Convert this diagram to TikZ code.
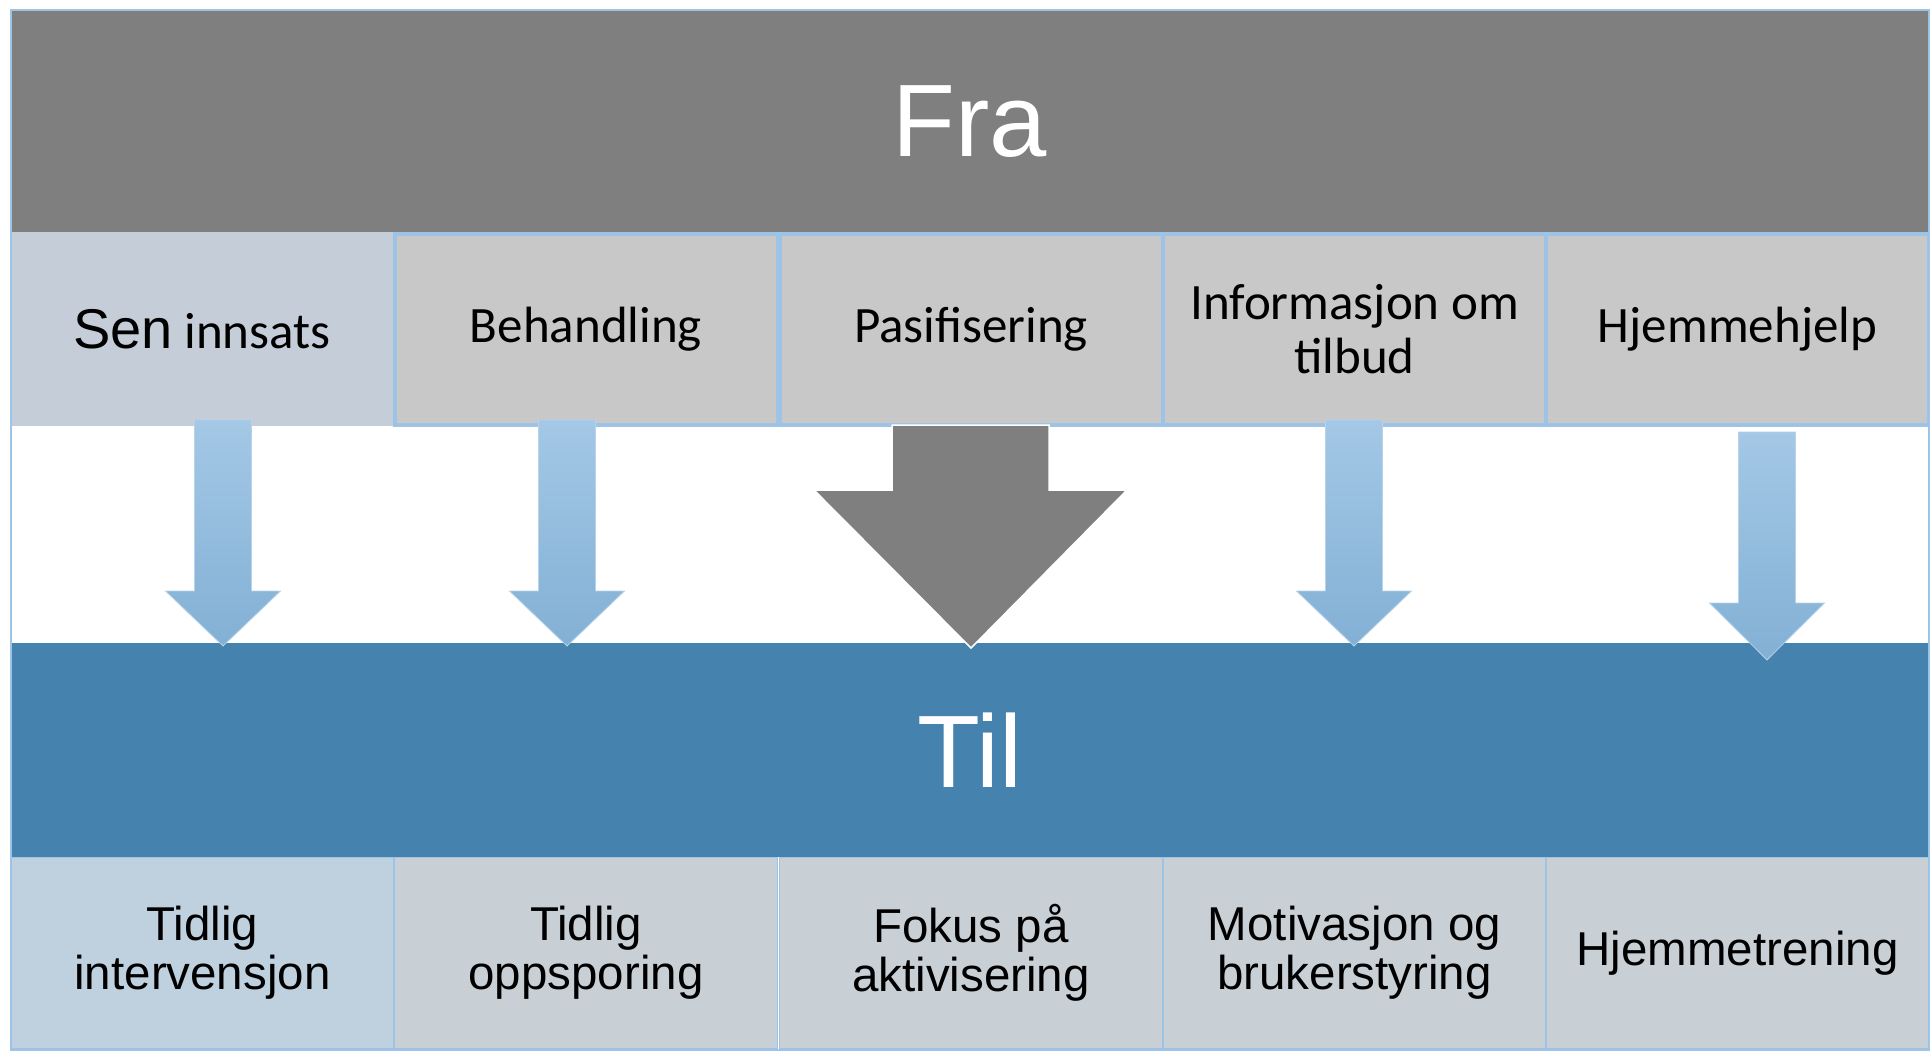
\documentclass[tikz,border=0pt]{standalone}
\usepackage{fontspec}
\setmainfont{Liberation Sans}
\newfontfamily\carl{Carlito}
\newfontfamily\arialish{Liberation Sans}
\usetikzlibrary{calc}
\definecolor{fragray}{RGB}{127,127,127}
\definecolor{topone}{RGB}{197,206,216}
\definecolor{topbox}{RGB}{200,200,200}
\definecolor{bordblue}{RGB}{157,195,230}
\definecolor{tilblue}{RGB}{69,130,173}
\definecolor{botone}{RGB}{191,208,222}
\definecolor{botbox}{RGB}{200,208,214}
\definecolor{arrtop}{RGB}{164,200,230}
\definecolor{arrbot}{RGB}{130,176,212}
\newcommand\bluearr[4]{% center x, stem top, head top, tip
  \path[top color=arrtop, bottom color=arrbot, draw=arrtop!80!white, line width=0.8pt]
    (#1-28.5,#2) -- (#1+28.5,#2) -- (#1+28.5,#3) -- (#1+57.5,#3) -- (#1,#4)
    -- (#1-57.5,#3) -- (#1-28.5,#3) -- cycle;}
\begin{document}
\begin{tikzpicture}[x=1pt,y=-1pt,
  band/.style={rectangle, inner sep=0pt, minimum width=1918pt, text=white,
    font=\fontsize{103}{110}\selectfont},
  topcell/.style={rectangle, inner sep=0pt, minimum width=383pt, minimum height=191pt,
    fill=topbox, draw=bordblue, line width=4pt, align=center,
    font=\carl\fontsize{51}{54}\selectfont},
  botcell/.style={rectangle, inner sep=0pt, minimum width=383pt, minimum height=191pt,
    fill=botbox, draw=bordblue, line width=1.5pt, align=center,
    font=\fontsize{47.5}{49}\selectfont}]
\useasboundingbox (0,0) rectangle (1930,1052);
\fill[white] (0,0) rectangle (1930,1052);
% bands
\node[band, fill=fragray, minimum height=221pt] (fra) at (970,121.5) {Fra};
\node[band, fill=tilblue, minimum height=214pt] (til) at (970,750) {Til};
% top row
\node[topcell, fill=topone, draw=none, minimum width=382pt, minimum height=194pt] (t1) at (202,329)
  {{\arialish\fontsize{56}{54}\selectfont Sen} innsats};
\node[topcell] (t2) at (586,329) {Behandling};
\node[topcell] (t3) at (971,329) {Pasifisering};
\node[topcell] (t4) at (1354.5,329) {Informasjon om\\tilbud};
\node[topcell] (t5) at (1737.5,329) {Hjemmehjelp};
% bottom row
\node[botcell, fill=botone] (b1) at (202.5,953) {Tidlig\\intervensjon};
\node[botcell] (b2) at (586,953) {Tidlig\\oppsporing};
\node[botcell] (b3) at (971,953) {Fokus på\\aktivisering};
\node[botcell] (b4) at (1354.5,953) {Motivasjon og\\brukerstyring};
\node[botcell] (b5) at (1737.5,953) {Hjemmetrening};
% outer frame
\draw[bordblue, line width=1.5pt] (11,10) rectangle (1929,1050);
% arrows
\bluearr{223}{420}{591}{646}
\bluearr{567}{420}{591}{646}
\bluearr{1354}{420}{591}{646}
\bluearr{1767}{432}{603}{660}
\path[fill=fragray, draw=white, line width=1.5pt]
  (892,425) -- (1049,425) -- (1049,490) -- (1127,490) -- (971,648)
  -- (814,490) -- (892,490) -- cycle;
\end{tikzpicture}
\end{document}
